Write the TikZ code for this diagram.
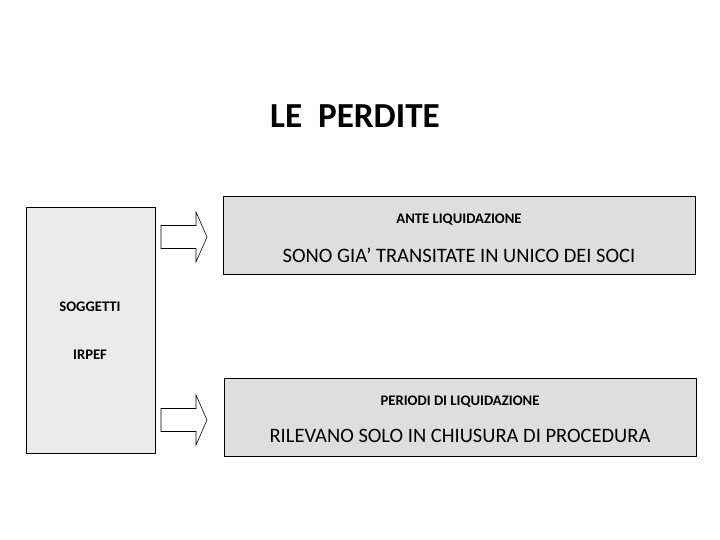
\documentclass[tikz,border=0pt]{standalone}
\usepackage{fontspec}
\setmainfont{Carlito}
\usetikzlibrary{positioning}
\tikzset{
  infobox/.style={draw=black,fill=black!13,minimum width=14.16cm,minimum height=2.34cm,inner sep=0pt},
  leftbox/.style={draw=black,fill=black!8,minimum width=3.87cm,minimum height=7.38cm,inner sep=0pt},
  headtext/.style={font=\bfseries\fontsize{12.5}{15}\selectfont},
  bodytext/.style={font=\fontsize{17.5}{21}\selectfont},
  bigarrow/.style={draw=black,fill=white,line width=0.5pt}
}
\begin{document}
\begin{tikzpicture}[x=0.03cm,y=-0.03cm]
    \useasboundingbox (0,0) rectangle (720,540);
    \node[font=\bfseries\fontsize{30}{36}\selectfont] (title) at (355,116) {LE\ \ PERDITE};

    \node[leftbox] (subj) at (90.5,330) {};
    \node[headtext] (subj1) at (90,307) {SOGGETTI};
    \node[headtext] (subj2) at (90,355) {IRPEF};

    \node[infobox] (ante) at (459,235) {};
    \node[headtext] (antehead) at (459,220) {ANTE LIQUIDAZIONE};
    \node[bodytext] (antetext) at (459,255) {SONO GIA’ TRANSITATE IN UNICO DEI SOCI};

    \node[infobox] (per) at (460,417.5) {};
    \node[headtext] (perhead) at (460,402) {PERIODI DI LIQUIDAZIONE};
    \node[bodytext] (pertext) at (460,436) {RILEVANO SOLO IN CHIUSURA DI PROCEDURA};

    % arrows
    \foreach \ay in {237,420}
      \draw[bigarrow] (161,\ay-11.5) -- (196,\ay-11.5) -- (196,\ay-25) -- (207,\ay)
        -- (196,\ay+25) -- (196,\ay+11.5) -- (161,\ay+11.5) -- cycle;
\end{tikzpicture}
\end{document}
